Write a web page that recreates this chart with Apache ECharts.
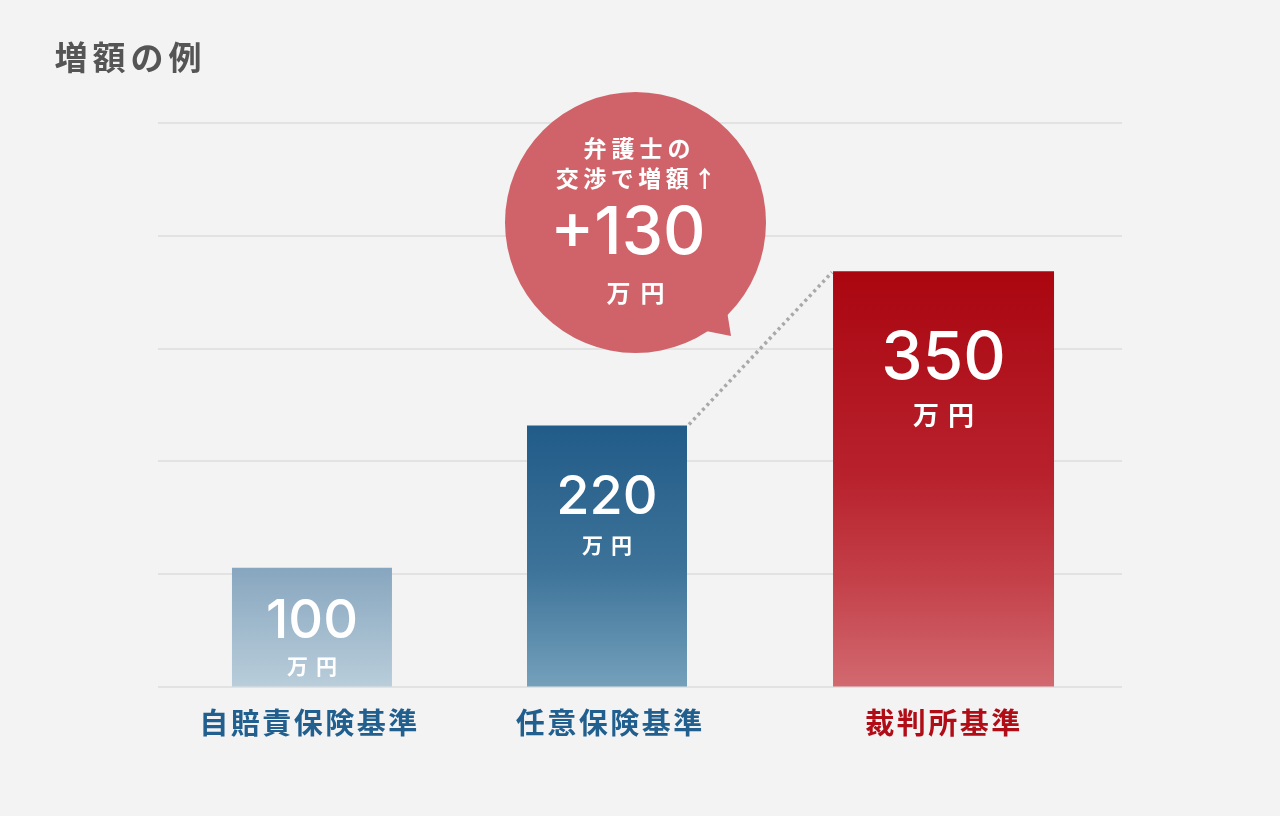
<!DOCTYPE html>
<html>
<head>
<meta charset="utf-8">
<script src="https://cdn.jsdelivr.net/npm/echarts@6/dist/echarts.min.js"></script>
<style>
  html, body { margin: 0; padding: 0; background: #f3f3f3; }
  #chart { width: 1280px; height: 816px; }
</style>
</head>
<body>
<div id="chart"></div>
<script>
// ---- data ----
const chartTitle = '増額の例';
const categories = ['自賠責保険基準', '任意保険基準', '裁判所基準'];
const amounts = [100, 220, 350];
const unitText = '万円';
const increaseAmount = 130;
const bubbleLines = ['弁護士の', '交渉で増額↑'];
const yTicks = [0, 95, 190, 285, 380, 475];

// ---- styles ----
const CJK = '"Noto Sans CJK JP", "Noto Sans", sans-serif';
const NUM = 'Inter, Roboto, "Noto Sans", sans-serif';
const barWidths = [160, 160, 221];
const barShift = [-6.7, -33, -17.8];
const numOffset = [54, 72, 88];
const unitOffset = [98, 120, 144];
const numSize = [54, 54, 66];
const unitSize = [21, 21, 26];
const unitSpacing = [8, 8, 9];
const labelColors = ['#215f8e', '#215f8e', '#b00d17'];
const labelShiftPad = [21, 62, 37];
const gradients = [
  [[0, '#87a6bf'], [1, '#b9cdda']],
  [[0, '#215b88'], [0.55, '#3d7399'], [1, '#74a0bb']],
  [[0, '#aa0610'], [0.5, '#b8222d'], [0.75, '#c4414a'], [1, '#d26970']]
];

// build letter-spaced rich text: each character is its own token
function spacedText(str, key) {
  return Array.from(str).map(ch => '{' + key + '|' + ch + '}').join('');
}
function spacedRich(key, style, gap) {
  const r = {};
  r[key] = Object.assign({}, style, { padding: [0, gap / 2, 0, gap / 2] });
  return r;
}

const chart = echarts.init(document.getElementById('chart'));

function barGeom(api, idx, val) {
  const base = api.coord([idx, 0]);
  const top = api.coord([idx, val]);
  const cx = base[0] + barShift[idx];
  const w = barWidths[idx];
  return { x: cx - w / 2, cx, w, y: top[1], h: base[1] - top[1] };
}

const axisRich = {};
categories.forEach((c, i) => {
  const base = { color: labelColors[i], fontSize: 29, fontWeight: 'bold', fontFamily: CJK };
  axisRich['c' + i] = Object.assign({}, base, { padding: [0, 1.25, 0, 1.25] });
  axisRich['e' + i] = Object.assign({}, base, { padding: [0, 1.25 + labelShiftPad[i], 0, 1.25] });
});

function bubbleText(x, y, str, style, gap) {
  return {
    type: 'text', z: 100,
    style: {
      x, y, text: spacedText(str, 't'),
      rich: spacedRich('t', Object.assign({ fill: '#ffffff', color: '#ffffff' }, style), gap),
      align: 'center', verticalAlign: 'middle', textAlign: 'center', textVerticalAlign: 'middle'
    }
  };
}

const option = {
  backgroundColor: '#f3f3f3',
  animation: false,
  title: {
    text: spacedText(chartTitle, 't'), left: 47, top: 36,
    textStyle: {
      rich: spacedRich('t', { fontSize: 33, fontWeight: 'bold', color: '#555555', fontFamily: CJK }, 5)
    }
  },
  grid: { left: 158, right: 158, top: 123, bottom: 129.5 },
  xAxis: {
    type: 'category', data: categories,
    axisLine: { show: false }, axisTick: { show: false },
    axisLabel: {
      margin: 22,
      interval: 0,
      hideOverlap: false,
      formatter: (v, i) => {
        const chars = Array.from(v);
        return chars.map((ch, k) => '{' + (k === chars.length - 1 ? 'e' : 'c') + i + '|' + ch + '}').join('');
      },
      rich: axisRich
    }
  },
  yAxis: {
    type: 'value', min: yTicks[0], max: yTicks[yTicks.length - 1], interval: yTicks[1] - yTicks[0],
    axisLabel: { show: false }, axisLine: { show: false }, axisTick: { show: false },
    splitLine: { lineStyle: { color: '#e2e2e2', width: 2 } }
  },
  series: [
    {
      type: 'custom',
      name: 'connector',
      data: [[1, amounts[1], 2, amounts[2]]],
      z: 1,
      renderItem: (params, api) => {
        const a = barGeom(api, api.value(0), api.value(1));
        const b = barGeom(api, api.value(2), api.value(3));
        return {
          type: 'line',
          shape: { x1: a.x + a.w + 2, y1: a.y - 1, x2: b.x - 1, y2: b.y + 1 },
          style: { stroke: '#a9a9a9', lineWidth: 3.5, lineDash: [3, 3.5] }
        };
      }
    },
    {
      type: 'custom',
      name: 'amount',
      data: amounts.map((v, i) => [i, v]),
      z: 2,
      renderItem: (params, api) => {
        const idx = api.value(0);
        const g = barGeom(api, idx, api.value(1));
        const stops = gradients[idx].map(s => ({ offset: s[0], color: s[1] }));
        return {
          type: 'group',
          children: [
            {
              type: 'rect',
              shape: { x: g.x, y: g.y, width: g.w, height: g.h },
              style: { fill: new echarts.graphic.LinearGradient(0, 0, 0, 1, stops) }
            },
            {
              type: 'text',
              style: {
                x: g.cx, y: g.y + numOffset[idx], text: String(amounts[idx]),
                fill: '#ffffff', fontSize: numSize[idx], fontFamily: NUM, fontWeight: 500,
                align: 'center', verticalAlign: 'middle'
              }
            },
            {
              type: 'text',
              style: {
                x: g.cx, y: g.y + unitOffset[idx], text: spacedText(unitText, 'u'),
                rich: spacedRich('u', {
                  fill: '#ffffff', color: '#ffffff', fontSize: unitSize[idx], fontFamily: CJK, fontWeight: 'bold'
                }, unitSpacing[idx]),
                align: 'center', verticalAlign: 'middle'
              }
            }
          ]
        };
      }
    }
  ],
  graphic: [
    { type: 'circle', z: 100, shape: { cx: 635.5, cy: 222.5, r: 130.5 }, style: { fill: '#d06369' } },
    { type: 'polygon', z: 100, shape: { points: [[706, 331], [727, 311], [731, 336]] }, style: { fill: '#d06369' } },
    bubbleText(637, 148, bubbleLines[0], { fontSize: 23, fontWeight: 'bold', fontFamily: CJK }, 5),
    bubbleText(636, 178, bubbleLines[1], { fontSize: 23, fontWeight: 'bold', fontFamily: CJK }, 4.5),
    {
      type: 'text', z: 100, style: {
        x: 628, y: 234, text: '+' + increaseAmount, fill: '#fff', fontSize: 66, fontWeight: 500,
        fontFamily: NUM, align: 'center', verticalAlign: 'middle', textAlign: 'center', textVerticalAlign: 'middle'
      }
    },
    bubbleText(635.5, 293, unitText, { fontSize: 24, fontWeight: 'bold', fontFamily: CJK }, 10)
  ]
};
chart.setOption(option);
</script>
</body>
</html>
